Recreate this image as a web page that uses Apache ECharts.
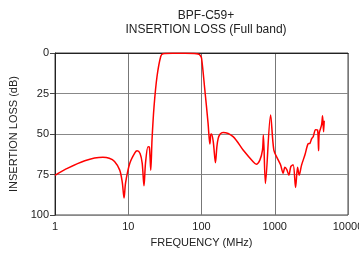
<!DOCTYPE html>
<html>
<head>
<meta charset="utf-8">
<script src="https://cdn.jsdelivr.net/npm/echarts@6/dist/echarts.min.js"></script>
<style>
  html, body { margin: 0; padding: 0; background: #fff; }
  #chart { width: 359px; height: 255px; }
</style>
</head>
<body>
<div id="chart"></div>
<script>
// frequency points (MHz)
const freq = [
  1, 1.36, 2.55, 4.5, 5.5, 6.5, 7.65, 8.3, 8.76, 9.2, 10.5, 12.3, 13.2, 14.5, 15.5, 16.4, 17.2,
  18.6, 19.4, 20.3, 21.1, 22.5, 24.7, 27.8, 29.9, 40, 60, 80, 89.9, 95, 100, 111, 123, 130, 134,
  137, 145, 155, 162, 169, 180, 197, 270, 370, 507, 560, 626, 680, 700, 746, 877, 972, 1113, 1200,
  1303, 1374, 1460, 1560, 1660, 1784, 1924, 2049, 2154, 2323, 2578, 2860, 3017, 3184, 3348, 3610,
  3843, 3966, 4043, 4359, 4497, 4645, 4732
]
// insertion loss (dB)
const loss = [
  75.5, 72, 66.5, 64.4, 65, 67, 72.3, 80, 89.5, 80, 68, 61.6, 60.3, 62, 68, 82, 68,
  57.8, 58, 72.3, 53.7, 33, 14.5, 2, 0.4, 0.2, 0.2, 0.3, 0.6, 1.2, 3, 22.7, 43.4, 56.2, 50.5,
  50, 55, 67.8, 58, 52.7, 50, 49, 51.6, 59.9, 67.1, 68.6, 66.1, 60, 50.6, 80.5, 38.2, 59.9, 66, 69,
  74.3, 70.6, 72, 75.4, 70, 69, 83, 70.6, 75.4, 69.2, 63, 56, 55.8, 53, 51.7, 47.3,
  47.5, 60.3, 49.6, 44.4, 38.8, 48.6, 41.8
]
const xTicks = [1, 10, 100, 1000, 10000]
const yTicks = [0, 25, 50, 75, 100]

const chart = echarts.init(document.getElementById('chart'))
const font = 'Liberation Sans, Arial, sans-serif'

chart.setOption({
  animation: false,
  title: {
    text: 'BPF-C59+\nINSERTION LOSS (Full band)',
    left: 201,
    top: 4,
    textAlign: 'center',
    textStyle: { fontFamily: font, fontSize: 12, fontWeight: 'normal', color: '#222', lineHeight: 14 }
  },
  grid: {
    left: 55, right: 11, top: 53, bottom: 40,
    outerBoundsMode: 'none',
    show: true, borderColor: '#444', borderWidth: 1
  },
  xAxis: {
    type: 'log',
    logBase: 10,
    min: xTicks[0],
    max: xTicks[xTicks.length - 1],
    name: 'FREQUENCY (MHz)',
    nameLocation: 'middle',
    nameGap: 22,
    nameTextStyle: { fontFamily: font, fontSize: 11, color: '#222' },
    axisLine: { lineStyle: { color: '#222' } },
    axisTick: { show: false },
    minorTick: { show: false },
    axisLabel: { fontFamily: font, fontSize: 11, color: '#222', margin: 6, formatter: v => String(v) },
    splitLine: { show: true, lineStyle: { color: '#777', width: 1 } }
  },
  yAxis: {
    type: 'value',
    inverse: true,
    min: yTicks[0],
    max: yTicks[yTicks.length - 1],
    interval: 25,
    name: 'INSERTION LOSS (dB)',
    nameLocation: 'middle',
    nameGap: 33,
    nameTextStyle: { fontFamily: font, fontSize: 11, color: '#222' },
    axisLine: { show: true, lineStyle: { color: '#222' } },
    axisTick: { show: true, length: 5, lineStyle: { color: '#444' } },
    axisLabel: { fontFamily: font, fontSize: 11, color: '#222', margin: 6 },
    splitLine: { show: true, lineStyle: { color: '#888', width: 1 } }
  },
  series: [{
    type: 'line',
    data: freq.map((f, i) => [f, loss[i]]),
    showSymbol: false,
    smooth: 0.3,
    lineStyle: { color: '#ff0000', width: 1.5 }
  }]
})
</script>
</body>
</html>
